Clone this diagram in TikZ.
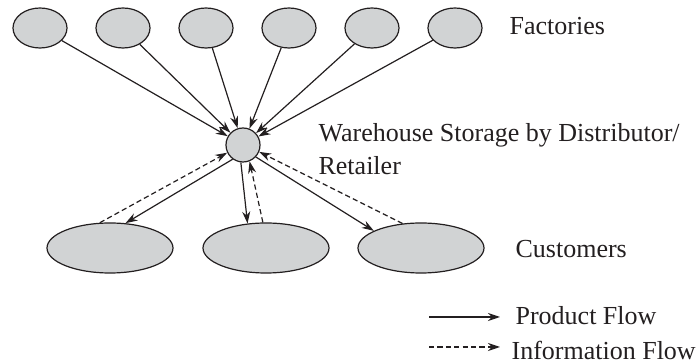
\documentclass[tikz,border=0pt]{standalone}
\usepackage{fontspec}
\setmainfont{Liberation Serif}
\usetikzlibrary{positioning}
\usetikzlibrary{shapes.geometric}
\usetikzlibrary{arrows.meta}

\definecolor{ellgray}{RGB}{209,211,212}
\definecolor{ink}{RGB}{35,31,32}

\begin{document}
\begin{tikzpicture}[x=0.5pt, y=-0.5pt, line width=0.6pt, draw=ink,
			factory/.style={draw=ink, ellipse, fill=ellgray, minimum width=27pt, minimum height=20pt, inner sep=0pt},
			customer/.style={draw=ink, ellipse, fill=ellgray, minimum width=63pt, minimum height=25pt, inner sep=0pt},
			tag/.style={anchor=base west, text=ink, inner sep=0pt, font=\fontsize{13}{16.5}\selectfont},
			product/.style={draw=ink, -{Stealth[length=6pt, width=4pt]}},
			info/.style={draw=ink, dashed, dash pattern=on 2.6pt off 1.6pt, -{Stealth[length=6pt, width=4pt]}}]
			\useasboundingbox (0,0) rectangle (698,363);
			% factories
			\node[factory](f1) at (40,28){};
			\node[factory](f2) at (123,28){};
			\node[factory](f3) at (206,28){};
			\node[factory](f4) at (289,28){};
			\node[factory](f5) at (372,28){};
			\node[factory](f6) at (455,28){};
			\node[tag](factories) at (509,35){Factories};
			% warehouse
			\node[draw=ink, circle, fill=ellgray, minimum size=17pt, inner sep=0pt](hub) at (243,145){};
			\node[tag, align=left](store) at (318,175){Warehouse Storage by Distributor/\\Retailer};
			% customers
			\node[customer](c1) at (110,248){};
			\node[customer](c2) at (266,248){};
			\node[customer](c3) at (421,248){};
			\node[tag](customers) at (515,258){Customers};
			% product flow
			\foreach \f in {f1,f2,f3,f4,f5,f6}
				\path[product] (\f) -- (hub);
			\path[product] (hub.234) -- (c1.58);
			\path[product] (hub.263) -- (c2.127);
			\path[product] (hub.317) -- (c3.160);
			% information flow
			\path[info] (c1.112) -- (hub.206);
			\path[info] (c2.97) -- (hub.292);
			\path[info] (c3.127) -- (hub.337);
			% legend
			\node[tag](prodkey) at (515,325){Product Flow};
			\node[tag](infokey) at (511,360){Information Flow};
			\coordinate (prodstart) at (429,317);
			\coordinate (prodend) at (500,317);
			\coordinate (infostart) at (429,347);
			\coordinate (infoend) at (500,347);
			\path[product] (prodstart) -- (prodend);
			\path[info] (infostart) -- (infoend);
	\end{tikzpicture}
\end{document}
